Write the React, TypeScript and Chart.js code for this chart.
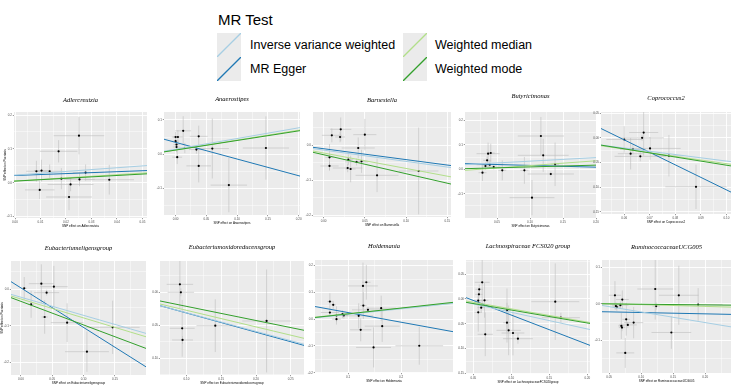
import React, { useEffect, useRef } from "react";
import { Chart, registerables } from "chart.js";

Chart.register(...registerables);

// Panel titles (exposure taxa), left to right, top to bottom
const taxa = [
  "Adlercreutzia",
  "Anaerostipes",
  "Barnesiella",
  "Butyricimonas",
  "Coprococcus2",
  "Eubacteriumeligensgroup",
  "Eubacteriumoxidoreducensgroup",
  "Holdemania",
  "Lachnospiraceae FCS020 group",
  "RuminococcaceaeUCG005",
];
const exposureNames = [
  "Adlercreutzia",
  "Anaerostipes",
  "Barnesiella",
  "Butyricimonas",
  "Coprococcus2",
  "Eubacteriumeligensgroup",
  "Eubacteriumoxidoreducensgroup",
  "Holdemania",
  "LachnospiraceaeFCS020group",
  "RuminococcaceaeUCG005",
];
const outcomeName = "Psoriasis";

// SNP rows: [effect on exposure, effect on outcome, se exposure, se outcome]
const adlercreutziaSnps = [
  [0.0084, 0.034, 0.004, 0.031],
  [0.0104, 0.036, 0.003, 0.032],
  [0.0136, 0.034, 0.005, 0.02],
  [0.0171, 0.093, 0.0074, 0.033],
  [0.0251, 0.139, 0.0099, 0.055],
  [0.0182, 0.012, 0.004, 0.031],
  [0.0097, -0.021, 0.0058, 0.027],
  [0.0218, -0.005, 0.009, 0.02],
  [0.0212, -0.042, 0.009, 0.039],
  [0.0253, 0.01, 0.006, 0.02],
  [0.0277, 0.03, 0.005, 0.024],
  [0.037, 0.009, 0.0097, 0.044],
];
const anaerostipesSnps = [
  [0.0, 0.05, 0.006, 0.015],
  [0.0038, 0.05, 0.008, 0.02],
  [0.0, 0.038, 0.005, 0.015],
  [0.0016, 0.028, 0.005, 0.012],
  [0.0016, 0.021, 0.006, 0.015],
  [0.0027, -0.0087, 0.008, 0.02],
  [0.0124, 0.068, 0.0129, 0.0425],
  [0.015, 0.018, 0.01, 0.015],
  [0.0339, 0.0135, 0.012, 0.012],
  [0.0376, 0.052, 0.0145, 0.031],
  [0.0376, -0.034, 0.02, 0.048],
  [0.0597, 0.0164, 0.027, 0.087],
  [0.0866, -0.0899, 0.0296, 0.079],
  [0.1468, 0.018, 0.0376, 0.092],
];
const barnesiellaSnps = [
  [0.0208, 0.0457, 0.0128, 0.034],
  [0.01, 0.0286, 0.012, 0.02],
  [0.02, 0.0238, 0.006, 0.015],
  [0.05, 0.0305, 0.014, 0.045],
  [0.042, -0.0076, 0.02, 0.03],
  [0.0072, -0.0343, 0.005, 0.038],
  [0.0072, -0.059, 0.011, 0.012],
  [0.03, -0.041, 0.006, 0.015],
  [0.0292, -0.0648, 0.018, 0.012],
  [0.0328, -0.0676, 0.006, 0.038],
  [0.04, -0.0476, 0.014, 0.01],
  [0.046, -0.0457, 0.006, 0.033],
  [0.0648, -0.0857, 0.026, 0.048],
  [0.1152, -0.0733, 0.024, 0.124],
];
const butyricimonasSnps = [
  [0.0365, 0.0642, 0.0175, 0.045],
  [0.0405, 0.0669, 0.006, 0.038],
  [0.035, 0.0369, 0.006, 0.015],
  [0.0325, 0.0137, 0.006, 0.015],
  [0.039, 0.019, 0.02, 0.015],
  [0.045, 0.0096, 0.01, 0.01],
  [0.028, -0.0137, 0.006, 0.034],
  [0.058, -0.0041, 0.006, 0.041],
  [0.0915, -0.0041, 0.006, 0.055],
  [0.1165, 0.1365, 0.035, 0.078],
  [0.12, 0.0573, 0.0385, 0.068],
  [0.138, 0.0205, 0.006, 0.089],
  [0.1315, -0.0191, 0.035, 0.01],
  [0.103, -0.116, 0.034, 0.072],
];
const coprococcus2Snps = [
  [0.06, -0.0034, 0.007, 0.027],
  [0.0676, 0.0107, 0.0057, 0.047],
  [0.067, 0.0, 0.0085, 0.006],
  [0.0701, -0.0215, 0.012, 0.023],
  [0.0634, -0.0235, 0.005, 0.01],
  [0.0625, -0.0322, 0.005, 0.032],
  [0.0663, -0.0376, 0.0101, 0.01],
  [0.0775, -0.0362, 0.0057, 0.042],
  [0.0881, -0.0993, 0.012, 0.045],
];
const eligensSnps = [
  [0.0053, 0.0027, 0.004, 0.031],
  [0.0326, 0.0155, 0.02, 0.053],
  [0.041, -0.0091, 0.02, 0.008],
  [0.0526, 0.0073, 0.022, 0.057],
  [0.0163, -0.0411, 0.005, 0.037],
  [0.0379, -0.0758, 0.005, 0.046],
  [0.0737, -0.0913, 0.026, 0.053],
  [0.1053, -0.1708, 0.035, 0.055],
  [0.1463, -0.1041, 0.043, 0.073],
];
const oxidoreducensSnps = [
  [0.0905, 0.0121, 0.019, 0.036],
  [0.0919, 0.0, 0.019, 0.006],
  [0.0938, -0.0545, 0.018, 0.043],
  [0.0943, -0.0722, 0.015, 0.006],
  [0.1414, -0.0505, 0.027, 0.04],
  [0.2152, -0.0434, 0.035, 0.078],
];
const holdemaniaSnps = [
  [0.0656, 0.0658, 0.005, 0.031],
  [0.0719, 0.0534, 0.005, 0.015],
  [0.0656, 0.0248, 0.017, 0.01],
  [0.0781, 0.0137, 0.008, 0.034],
  [0.0781, 0.0, 0.008, 0.01],
  [0.0894, 0.0186, 0.008, 0.015],
  [0.0919, 0.0137, 0.008, 0.012],
  [0.12, 0.0124, 0.027, 0.047],
  [0.1238, -0.0398, 0.02, 0.043],
  [0.1281, 0.1242, 0.028, 0.087],
  [0.1344, 0.1379, 0.008, 0.065],
  [0.1288, 0.0509, 0.006, 0.05],
  [0.1375, 0.0348, 0.03, 0.01],
  [0.1625, 0.041, 0.028, 0.047],
  [0.1644, -0.0261, 0.033, 0.059],
  [0.1481, -0.1056, 0.033, 0.075],
  [0.2344, -0.0994, 0.045, 0.071],
];
const fcs020Snps = [
  [0.0617, 0.0336, 0.0098, 0.05],
  [0.0578, 0.0195, 0.005, 0.01],
  [0.0574, 0.0094, 0.005, 0.01],
  [0.0565, -0.0034, 0.0087, 0.008],
  [0.0648, -0.0027, 0.005, 0.035],
  [0.0604, -0.0174, 0.005, 0.01],
  [0.0565, -0.0268, 0.005, 0.039],
  [0.0657, -0.0711, 0.01, 0.044],
  [0.0943, -0.0228, 0.005, 0.044],
  [0.0943, -0.0477, 0.005, 0.04],
  [0.0965, -0.0631, 0.016, 0.05],
  [0.1022, -0.0685, 0.015, 0.045],
  [0.1087, -0.0799, 0.0196, 0.01],
  [0.1578, -0.0054, 0.0315, 0.077],
  [0.1652, -0.0376, 0.025, 0.01],
];
const ucg005Snps = [
  [0.0591, 0.0235, 0.0096, 0.039],
  [0.0606, -0.0063, 0.006, 0.01],
  [0.0621, -0.009, 0.006, 0.01],
  [0.0676, -0.0036, 0.0126, 0.01],
  [0.0706, 0.0118, 0.01, 0.025],
  [0.0767, -0.0425, 0.006, 0.045],
  [0.0691, -0.0606, 0.005, 0.036],
  [0.0701, -0.0652, 0.005, 0.01],
  [0.0792, -0.0579, 0.014, 0.008],
  [0.0883, -0.0516, 0.015, 0.043],
  [0.0752, -0.1348, 0.014, 0.041],
  [0.122, 0.0407, 0.028, 0.084],
  [0.1235, -0.0063, 0.006, 0.01],
  [0.1472, -0.0787, 0.031, 0.045],
  [0.1588, 0.0235, 0.031, 0.081],
  [0.189, -0.0018, 0.038, 0.045],
];
const snpsByPanel = [
  adlercreutziaSnps,
  anaerostipesSnps,
  barnesiellaSnps,
  butyricimonasSnps,
  coprococcus2Snps,
  eligensSnps,
  oxidoreducensSnps,
  holdemaniaSnps,
  fcs020Snps,
  ucg005Snps,
];

// MR fits per panel: [intercept, slope]
const ivwFit = [
  [0.0226, 0.545], [0.0145, 0.311], [-0.0136, -0.324], [0.0189, 0.1456], [0.0187, -0.658],
  [-0.0216, -0.497], [-0.0027, -0.2825], [-0.0027, 0.2065], [0.0069, -0.3362], [0.0069, -0.292],
];
const eggerFit = [
  [0.0215, 0.282], [0.0344, -0.485], [-0.0097, -0.3115], [0.0233, -0.0725], [0.1477, -2.532],
  [0.0039, -1.084], [-0.0022, -0.2908], [0.0607, -0.3605], [0.0265, -0.589], [-0.0203, -0.0362],
];
const medianFit = [
  [0.0051, 0.47], [0.0122, 0.288], [-0.0219, -0.442], [-0.0044, 0.197], [0.0215, -0.739],
  [-0.0265, -0.5186], [-0.0021, -0.2514], [0.0, 0.2014], [0.0067, -0.2658], [0.0028, -0.0492],
];
const modeFit = [
  [0.005, 0.414], [0.012, 0.279], [-0.0269, -0.5425], [0.0026, 0.073], [0.0274, -0.829],
  [-0.033, -0.646], [0.0002, -0.2146], [-0.0019, 0.2172], [0.0039, -0.2614], [0.0007, -0.0179],
];

// Axis limits and tick labels per panel
const xRanges = [
  [-0.0004, 0.0518], [-0.0188, 0.2022], [-0.0128, 0.1544], [0.0015, 0.2], [0.0509, 0.1018],
  [-0.0158, 0.1995], [0.0619, 0.269], [0.0375, 0.2981], [0.0404, 0.2035], [0.0389, 0.2403],
];
const yRanges = [
  [-0.104, 0.209], [-0.1768, 0.1227], [-0.2048, 0.0952], [-0.1993, 0.2348], [-0.1544, 0.0523],
  [-0.2347, 0.0776], [-0.1253, 0.0475], [-0.2012, 0.2211], [-0.151, 0.0785], [-0.19, 0.1204],
];
const xTickLabels = [
  ["0.00", "0.01", "0.02", "0.03", "0.04", "0.05"],
  ["0.00", "0.05", "0.10", "0.15", "0.20"],
  ["0.00", "0.05", "0.10", "0.15"],
  ["0.05", "0.10", "0.15", "0.20"],
  ["0.06", "0.07", "0.08", "0.09", "0.10"],
  ["0.00", "0.05", "0.10", "0.15"],
  ["0.10", "0.15", "0.20", "0.25"],
  ["0.1", "0.2"],
  ["0.05", "0.10", "0.15", "0.20"],
  ["0.05", "0.10", "0.15", "0.20"],
];
const yTickLabels = [
  ["-0.1", "0.0", "0.1", "0.2"],
  ["-0.1", "0.0", "0.1"],
  ["-0.2", "-0.1", "0.0"],
  ["-0.2", "-0.1", "0.0", "0.1", "0.2"],
  ["-0.15", "-0.10", "-0.05", "0.00", "0.05"],
  ["-0.2", "-0.1", "0.0"],
  ["-0.10", "-0.05", "0.00"],
  ["-0.2", "-0.1", "0.0", "0.1", "0.2"],
  ["-0.15", "-0.10", "-0.05", "0.00", "0.05"],
  ["-0.1", "0.0", "0.1"],
];

// Plot panel rectangles on the page: [left, top, right, bottom, title centre y]
const panelRects = [
  [14, 112, 148, 218, 100],
  [164, 112, 301, 215, 99],
  [313, 112, 452, 217, 100],
  [465, 112, 597, 218, 96],
  [601, 112, 735, 214, 98],
  [11, 261, 147, 375, 248],
  [160, 261, 305, 375, 247],
  [315, 260, 454, 373, 246],
  [466, 260, 591, 374, 246],
  [602, 260, 735, 373, 247],
];

const methods = ["Inverse variance weighted", "MR Egger", "Weighted median", "Weighted mode"];
const methodColours = ["#a6cee3", "#1f78b4", "#b2df8a", "#33a02c"];

const SANS = "'Liberation Sans', Arial, Helvetica, sans-serif";
const SERIF = "'Liberation Serif', 'Times New Roman', serif";

const panelBackground = {
  id: "panelBackground",
  beforeDraw(chart: any) {
    const { ctx, chartArea } = chart;
    if (!chartArea) return;
    ctx.save();
    ctx.fillStyle = "#EBEBEB";
    ctx.fillRect(chartArea.left, chartArea.top, chartArea.right - chartArea.left, chartArea.bottom - chartArea.top);
    ctx.restore();
  },
};

function buildTicks(labels: string[], min: number, max: number) {
  const major = labels.map(Number);
  const step = major[1] - major[0];
  const minor: number[] = [];
  for (let k = -1; k < major.length; k++) {
    const v = major[0] + (k + 0.5) * step;
    if (v > min && v < max) minor.push(v);
  }
  const all = [...major, ...minor].filter((v) => v >= min - 1e-9 && v <= max + 1e-9).sort((a, b) => a - b);
  const labelOf = (v: number) => {
    const i = major.findIndex((m) => Math.abs(m - v) < 1e-9);
    return i >= 0 ? labels[i] : "";
  };
  return { all, labelOf };
}

function axisOptions(
  labels: string[],
  range: number[],
  fit: (s: any) => void,
  title: any
) {
  const { all, labelOf } = buildTicks(labels, range[0], range[1]);
  const major = (c: any) => c.tick && labelOf(c.tick.value) !== "";
  return {
    type: "linear",
    min: range[0],
    max: range[1],
    afterBuildTicks: (s: any) => {
      s.ticks = all.map((v) => ({ value: v }));
    },
    afterFit: fit,
    border: { display: false },
    grid: {
      color: "#FFFFFF",
      lineWidth: (c: any) => (major(c) ? 0.9 : 0.45),
      drawTicks: true,
      tickLength: 1.2,
      tickWidth: 0.5,
      tickColor: (c: any) => (major(c) ? "#333333" : "rgba(0,0,0,0)"),
    },
    ticks: {
      autoSkip: false,
      maxRotation: 0,
      minRotation: 0,
      padding: 0.8,
      color: "#4D4D4D",
      font: { family: SANS, size: 3 },
      callback: (v: any) => labelOf(Number(v)),
    },
    title,
  };
}

function MrPanel({ index }: { index: number }) {
  const ref = useRef<HTMLCanvasElement>(null);
  const [L, T, R, B, titleY] = panelRects[index];
  const firstInRow = index % 5 === 0;
  const yW = firstInRow ? L : 8;
  const xH = 10;
  const topH = 20;
  const padR = index === 4 || index === 9 ? 0 : 3;
  const left = L - yW;
  const top = T - topH;
  const width = R - left + padR;
  const height = B - top + xH;

  useEffect(() => {
    const canvas = ref.current;
    if (!canvas) return;
    const snps = snpsByPanel[index];
    const [xMin, xMax] = xRanges[index];

    const bars: { x: number; y: number | null }[] = [];
    snps.forEach(([bx, by, sx, sy]) => {
      bars.push({ x: bx - sx, y: by }, { x: bx + sx, y: by }, { x: bx, y: null });
      bars.push({ x: bx, y: by - sy }, { x: bx, y: by + sy }, { x: bx, y: null });
    });

    const fitLine = (fit: number[]) => [
      { x: xMin, y: fit[0] + fit[1] * xMin },
      { x: xMax, y: fit[0] + fit[1] * xMax },
    ];
    const lineDs = (label: string, colour: string, fit: number[], order: number) => ({
      label,
      data: fitLine(fit),
      showLine: true,
      borderColor: colour,
      borderWidth: 1,
      pointRadius: 0,
      order,
    });

    const titleGap = T - titleY;
    const tPadTop = topH - titleGap - 3.9;
    const tPadBottom = topH - 7.8 - tPadTop;

    const chart = new Chart(canvas, {
      type: "scatter",
      data: {
        datasets: [
          {
            label: "se",
            data: bars,
            showLine: true,
            spanGaps: false,
            borderColor: "#BEBEBE",
            borderWidth: 0.6,
            pointRadius: 0,
            order: 10,
          },
          {
            label: "SNPs",
            data: snps.map(([bx, by]) => ({ x: bx, y: by })),
            pointRadius: 1.1,
            pointBorderWidth: 0,
            pointBackgroundColor: "#000000",
            order: 9,
          },
          lineDs(methods[1], methodColours[1], eggerFit[index], 8),
          lineDs(methods[2], methodColours[2], medianFit[index], 7),
          lineDs(methods[0], methodColours[0], ivwFit[index], 6),
          lineDs(methods[3], methodColours[3], modeFit[index], 5),
        ] as any,
      },
      options: {
        animation: false,
        responsive: false,
        maintainAspectRatio: false,
        devicePixelRatio: 1,
        events: [],
        layout: { padding: { left: 0, right: padR, top: 0, bottom: 0 } },
        plugins: {
          legend: { display: false },
          tooltip: { enabled: false },
          title: {
            display: true,
            text: taxa[index],
            fullSize: false,
            color: "#000000",
            font: { family: SERIF, size: 6.5, style: "italic", weight: "normal", lineHeight: 1.2 },
            padding: { top: tPadTop, bottom: tPadBottom },
          },
        },
        scales: {
          x: axisOptions(
            xTickLabels[index],
            xRanges[index],
            (s: any) => {
              s.height = xH;
              s.paddingLeft = 0;
              s.paddingRight = 0;
            },
            {
              display: true,
              text: "SNP effect on " + exposureNames[index],
              color: "#000000",
              font: { family: SANS, size: 3, lineHeight: 1.2 },
              padding: { top: 0, bottom: 0.3 },
            }
          ),
          y: axisOptions(
            yTickLabels[index],
            yRanges[index],
            (s: any) => {
              s.width = yW;
              s.paddingTop = 0;
              s.paddingBottom = 0;
            },
            {
              display: firstInRow,
              text: "SNP effect on " + outcomeName,
              color: "#000000",
              font: { family: SANS, size: 3, lineHeight: 1.2 },
              padding: { top: index === 0 ? 3.2 : 0.2, bottom: 0 },
            }
          ),
        } as any,
      },
      plugins: [panelBackground],
    });
    return () => chart.destroy();
  }, [index]);

  return (
    <canvas
      ref={ref}
      width={width}
      height={height}
      style={{ position: "absolute", left, top, width, height }}
    />
  );
}

function LegendKey({ colour }: { colour: string }) {
  return (
    <svg width={24} height={24} style={{ display: "block" }}>
      <rect x={0} y={0} width={24} height={24} fill="#EBEBEB" />
      <line x1={0} y1={24} x2={24} y2={0} stroke={colour} strokeWidth={1.3} />
    </svg>
  );
}

// Legend entries: [method index, key left, key top, text left]
const legendSlots = [
  [0, 217, 33, 250],
  [1, 217, 57, 250],
  [2, 403, 33, 435],
  [3, 403, 57, 435],
];

export default function App() {
  return (
    <div
      style={{
        position: "absolute",
        left: 0,
        top: 0,
        width: 735,
        height: 385,
        background: "#FFFFFF",
        overflow: "hidden",
        fontFamily: SANS,
      }}
    >
      <div style={{ position: "absolute", left: 218, top: 12, fontSize: 15, lineHeight: "15px", color: "#000" }}>
        MR Test
      </div>
      {legendSlots.map(([m, kx, ky, tx]) => (
        <React.Fragment key={m}>
          <div style={{ position: "absolute", left: kx, top: ky }}>
            <LegendKey colour={methodColours[m]} />
          </div>
          <div
            style={{
              position: "absolute",
              left: tx,
              top: ky,
              height: 24,
              display: "flex",
              alignItems: "center",
              fontSize: 12.5,
              color: "#000",
              whiteSpace: "nowrap",
            }}
          >
            {methods[m]}
          </div>
        </React.Fragment>
      ))}
      {panelRects.map((_, i) => (
        <MrPanel key={i} index={i} />
      ))}
    </div>
  );
}
